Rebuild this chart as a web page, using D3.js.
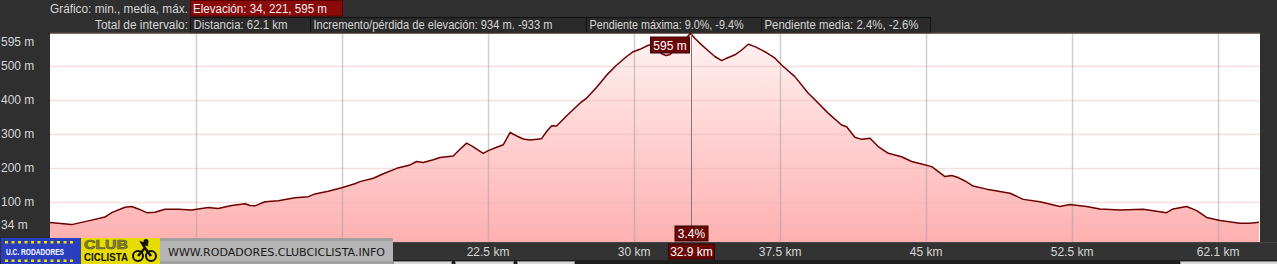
<!DOCTYPE html>
<html><head><meta charset="utf-8">
<script src="https://cdn.jsdelivr.net/npm/d3@7"></script>
<style>
html,body{margin:0;padding:0;background:#2f2f2f;overflow:hidden;}
svg{display:block;font-family:"Liberation Sans",Arial,sans-serif;}
</style></head>
<body>
<svg id="c" width="1277" height="264"></svg>
<script>
// ---- data ----
const distKm = [0,1.11,1.97,2.82,3.17,3.85,4.20,4.54,4.97,5.39,5.91,6.59,7.28,8.13,8.64,9.33,10.02,10.27,10.53,11.04,11.73,12.58,13.27,13.61,14.29,14.98,15.66,15.92,16.61,17.12,17.81,18.49,18.83,19.17,19.69,20.03,20.71,21.06,21.40,21.66,22.25,22.51,22.94,23.28,23.63,23.97,24.31,24.65,25.25,25.51,25.77,26.02,26.54,27.22,27.57,28.08,28.60,29.11,29.62,29.96,30.30,30.73,30.99,31.42,31.64,31.85,32.36,32.9,33.13,33.47,33.81,34.15,34.50,34.76,35.18,35.53,35.87,36.21,36.72,37.24,37.58,38.26,38.95,39.29,39.97,40.66,40.92,41.34,41.69,42.12,42.54,43.06,43.74,44.26,44.77,45.29,45.97,46.31,46.65,47.00,47.42,48.11,49.31,49.99,50.85,51.87,52.39,53.24,53.93,54.96,56.15,57.35,57.69,58.38,58.90,59.41,60.10,61.12,61.63,62.1];
const elevM = [40,34,45,56,69,85,87,80,69,70,79,79,77,84,81,90,95,90,89,101,104,113,116,124,132,142,154,160,170,183,199,209,219,216,224,231,235,255,273,265,243,251,261,268,304,294,285,282,286,307,324,323,353,390,405,437,473,502,527,541,548,560,564,535,530,533,560,595,580,561,544,527,515,522,532,546,563,556,541,522,502,468,419,400,361,326,321,290,284,287,263,243,233,219,212,204,175,178,172,162,147,138,126,108,101,87,93,87,80,77,79,69,80,87,75,55,46,38,38,41];
const yTicks = [34,100,200,300,400,500,595];
const yTickLabels = ["34 m","100 m","200 m","300 m","400 m","500 m","595 m"];
const xTicks = [7.5,15,22.5,30,37.5,45,52.5,60];
const xTickLabels = ["7.5 km","15 km","22.5 km","30 km","37.5 km","45 km","52.5 km","62.1 km"];
const cursorKm = 32.9, cursorElevLabel = "595 m", cursorSlope = "3.4%", cursorDistLabel = "32.9 km";
const headerRow1Label = "Gráfico: min., media, máx.";
const headerRow1Box = "Elevación: 34, 221, 595 m";
const headerRow2Label = "Total de intervalo:";
const headerRow2Boxes = ["Distancia: 62.1 km","Incremento/pérdida de elevación: 934 m. -933 m","Pendiente máxima: 9.0%, -9.4%","Pendiente media: 2.4%, -2.6%"];

// ---- layout ----
const svg = d3.select("#c");
const L = 50, R = 1260, T = 34, B = 242;
const x = d3.scaleLinear().domain([0, 62.1]).range([L, 1259]);
const y = d3.scaleLinear().domain([-17, 595]).range([B, 33.3]);
const data = distKm.map((d,i)=>({d, e: elevM[i]}));

svg.append("rect").attr("width",1277).attr("height",264).attr("fill","#2f2f2f");

// header
const txtCol = "#d6d6d6";
function txt(xv, yv, s, opts={}){
  const t = svg.append("text").attr("x",xv).attr("y",yv).attr("fill",opts.fill||txtCol).attr("font-size",opts.fs||12).text(s);
  if(opts.anchor) t.attr("text-anchor",opts.anchor);
  if(opts.len) t.attr("textLength",opts.len).attr("lengthAdjust","spacingAndGlyphs");
  return t;
}
txt(188, 12.5, headerRow1Label, {anchor:"end", len:138});
svg.append("rect").attr("x",190.5).attr("y",0.5).attr("width",152).attr("height",15.5).attr("fill","#8a0a0a").attr("stroke","#5a0000");
txt(193, 12.5, headerRow1Box, {fill:"#eeeeee", len:134});
txt(188, 29, headerRow2Label, {anchor:"end", len:93});
const boxX = [190,310,586,761,930];
const boxTextW = [94,239,154,154];
headerRow2Boxes.forEach((t,i)=>{
  svg.append("rect").attr("x",boxX[i]+0.5).attr("y",17.5).attr("width",boxX[i+1]-boxX[i]).attr("height",15.5)
    .attr("fill","#2a2a2a").attr("stroke","#111");
  txt(boxX[i]+3.5, 29, t, {len: boxTextW[i]});
});

// plot background
svg.append("rect").attr("x",L).attr("y",T).attr("width",R-L).attr("height",B-T).attr("fill","#ffffff");

// gradient
const defs = svg.append("defs");
const g = defs.append("linearGradient").attr("id","fillg")
  .attr("gradientUnits","userSpaceOnUse").attr("x1",0).attr("x2",0).attr("y1",T).attr("y2",B);
g.append("stop").attr("offset","0").attr("stop-color","#fff2f2");
g.append("stop").attr("offset","1").attr("stop-color","#ffb0b0");

// area
const area = d3.area().x(p=>x(p.d)).y0(B).y1(p=>y(p.e));
svg.append("path").datum(data).attr("d",area).attr("fill","url(#fillg)");

// grid
svg.append("g").selectAll("line").data(yTicks).join("line")
  .attr("x1",L).attr("x2",R).attr("y1",d=>Math.round(y(d))+0.5).attr("y2",d=>Math.round(y(d))+0.5)
  .attr("stroke","#e8b8b8").attr("stroke-opacity",0.45).attr("stroke-width",1.5);
svg.append("g").selectAll("line").data(xTicks).join("line")
  .attr("y1",T).attr("y2",B).attr("x1",d=>Math.round(x(d))+0.5).attr("x2",d=>Math.round(x(d))+0.5)
  .attr("stroke","#a0a0a0").attr("stroke-opacity",0.5).attr("stroke-width",1.5);

// line
const line = d3.line().x(p=>x(p.d)).y(p=>y(p.e));
svg.append("path").datum(data).attr("d",line).attr("fill","none").attr("stroke","#6e0000").attr("stroke-width",1.5).attr("stroke-linejoin","round");

// right border of plot
svg.append("rect").attr("x",R).attr("y",T).attr("width",17).attr("height",B-T).attr("fill","#2f2f2f");

// cursor
const cx = Math.round(x(cursorKm))+0.5;
svg.append("line").attr("x1",cx).attr("x2",cx).attr("y1",T).attr("y2",B).attr("stroke","#7a7a7a").attr("stroke-width",1);

// y labels (top label kept inside the plot height)
svg.append("g").selectAll("text").data(yTicks).join("text")
  .attr("x",1).attr("y",d=>Math.max(y(d), 41.7)+4).attr("fill",txtCol).attr("font-size",12).text((d,i)=>yTickLabels[i]);

// axis band
svg.append("rect").attr("x",0).attr("y",B).attr("width",1277).attr("height",18).attr("fill","#333333");
svg.append("rect").attr("x",0).attr("y",B).attr("width",1277).attr("height",1).attr("fill","#444");
const logoRight = 393;
svg.append("g").selectAll("text").data(xTicks.filter(d=>x(d) > logoRight+25)).join("text")
  .attr("x",d=>x(d)).attr("y",255.5).attr("text-anchor","middle").attr("fill",txtCol).attr("font-size",12)
  .text(d=>xTickLabels[xTicks.indexOf(d)]);

// bottom strip (tabs)
svg.append("rect").attr("x",0).attr("y",260).attr("width",1277).attr("height",4).attr("fill","#1e1e1e");
[[393,451],[455,513],[517,574],[1180,1277]].forEach(([a,b])=>{
  svg.append("rect").attr("x",a+0.5).attr("y",261.5).attr("width",b-a).attr("height",4).attr("fill","#d8d8d8").attr("stroke","#888");
});

// cursor labels
function tag(cxv, yTop, w, h, text){
  svg.append("rect").attr("x",cxv - w/2).attr("y",yTop).attr("width",w).attr("height",h).attr("fill","#6a0707").attr("stroke","#3a0000");
  svg.append("text").attr("x",cxv).attr("y",yTop+h-3.5).attr("text-anchor","middle").attr("fill","#ffffff").attr("font-size",12).text(text);
}
tag(670, 37, 39, 16, cursorElevLabel);
tag(cx, 226, 33, 15, cursorSlope);
tag(cx, 244, 46, 15, cursorDistLabel);

// logo
const lg = svg.append("g");
lg.append("rect").attr("x",160).attr("y",238).attr("width",233).attr("height",26).attr("fill","#a0a0a0");
lg.append("rect").attr("x",160).attr("y",241).attr("width",233).attr("height",20).attr("fill","#b4b4b4");
lg.append("text").attr("x",168).attr("y",256).attr("fill","#1a1a1a").attr("font-size",11)
  .attr("font-family","DejaVu Sans, sans-serif").attr("textLength",217).attr("lengthAdjust","spacingAndGlyphs")
  .text("WWW.RODADORES.CLUBCICLISTA.INFO");
lg.append("rect").attr("x",1).attr("y",238).attr("width",80).attr("height",26).attr("fill","#2a3fc0");
lg.append("g").selectAll("rect").data(d3.range(11)).join("rect")
  .attr("x",d=>5+d*6.5).attr("y",241).attr("width",3).attr("height",2.5).attr("fill","#f0e000");
lg.append("g").selectAll("rect").data(d3.range(11)).join("rect")
  .attr("x",d=>5+d*6.5).attr("y",259.5).attr("width",3).attr("height",2.5).attr("fill","#f0e000");
lg.append("text").attr("x",6).attr("y",255).attr("fill","#ffffff").attr("font-size",8.5).attr("font-weight","bold")
  .attr("textLength",58).attr("lengthAdjust","spacingAndGlyphs").text("U.C. RODADORES");
lg.append("rect").attr("x",81).attr("y",238).attr("width",79).attr("height",26).attr("fill","#e6dc00");
lg.append("text").attr("x",84).attr("y",248.5).attr("fill","#8a8a40").attr("stroke","#555520").attr("stroke-width",0.6)
  .attr("font-size",12.5).attr("font-weight","bold").attr("textLength",44).attr("lengthAdjust","spacingAndGlyphs").text("CLUB");
lg.append("text").attr("x",84).attr("y",261.2).attr("fill","#111").attr("font-size",10.5).attr("font-weight","bold")
  .attr("textLength",44).attr("lengthAdjust","spacingAndGlyphs").text("CICLISTA");
lg.append("circle").attr("cx",138).attr("cy",256).attr("r",5).attr("fill","none").attr("stroke","#111").attr("stroke-width",2);
lg.append("circle").attr("cx",151).attr("cy",256).attr("r",5).attr("fill","none").attr("stroke","#111").attr("stroke-width",2);
lg.append("path").attr("d","M138,256 L145,248 L151,256 M145,248 L142,243 L148,245").attr("stroke","#111").attr("stroke-width",2.5).attr("fill","none");
lg.append("circle").attr("cx",146).attr("cy",241.5).attr("r",2.5).attr("fill","#111");
</script>
</body></html>
